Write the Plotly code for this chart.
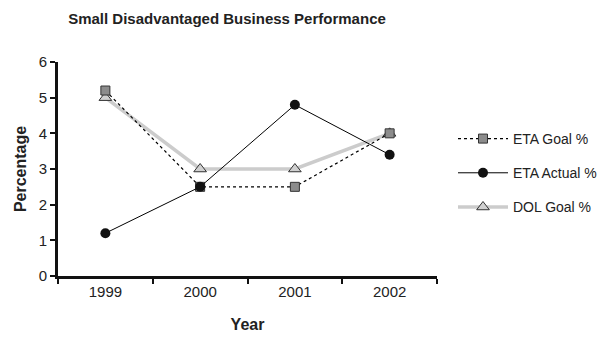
import plotly.graph_objects as go

years = ["1999", "2000", "2001", "2002"]
eta_goal = [5.2, 2.5, 2.5, 4.0]
eta_actual = [1.2, 2.5, 4.8, 3.4]
dol_goal = [5.0, 3.0, 3.0, 4.0]
y_ticks = [0, 1, 2, 3, 4, 5, 6]

FONT = "Liberation Sans, Arial, sans-serif"

fig = go.Figure()
fig.add_trace(go.Scatter(
    x=years, y=dol_goal, name="DOL Goal %", mode="lines+markers",
    line=dict(color="#cccccc", width=3.5),
    marker=dict(symbol="triangle-up", size=11, color="#d0d0d0",
                line=dict(color="#333333", width=1)),
    legendrank=3, legendgroup="c"))
fig.add_trace(go.Scatter(
    x=years, y=eta_goal, name="ETA Goal %", mode="lines+markers",
    line=dict(color="#000000", width=1.2, dash="dot"),
    marker=dict(symbol="square", size=9, color="#8c8c8c",
                line=dict(color="#333333", width=1)),
    legendrank=1, legendgroup="a"))
fig.add_trace(go.Scatter(
    x=years, y=eta_actual, name="ETA Actual %", mode="lines+markers",
    line=dict(color="#000000", width=1),
    marker=dict(symbol="circle", size=10, color="#111111"),
    legendrank=2, legendgroup="b"))

fig.update_layout(
    width=600, height=339,
    margin=dict(l=58, r=163, t=62, b=63),
    paper_bgcolor="white", plot_bgcolor="white",
    font=dict(family=FONT, size=15, color="#222222"),
    title=dict(text="<b>Small Disadvantaged Business Performance</b>",
               x=227/600, xanchor="center", y=1 - 19/339, yanchor="middle",
               font=dict(size=15, color="#222222")),
    xaxis=dict(type="category", range=[-0.5, 3.5], tickson="boundaries",
               ticks="outside", ticklen=5, tickwidth=2, tickcolor="#111111",
               showline=True, linewidth=3, linecolor="#111111",
               showgrid=False, zeroline=False, automargin=False,
               title=dict(text="<b>Year</b>", standoff=20, font=dict(size=16)),
               tickfont=dict(size=15)),
    yaxis=dict(range=[0, 6], tickvals=y_ticks, ticks="outside", ticklen=5,
               tickwidth=1.5, tickcolor="#111111",
               showline=True, linewidth=3, linecolor="#111111",
               showgrid=False, zeroline=False, automargin=False,
               title=dict(text="<b>Percentage</b>", standoff=9, font=dict(size=16)),
               tickfont=dict(size=15)),
    legend=dict(xref="container", x=453/600, y=0.715, xanchor="left", yanchor="top",
                tracegroupgap=13, font=dict(size=14, color="#222222"),
                bgcolor="rgba(0,0,0,0)", itemwidth=50),
    showlegend=True,
)

fig.write_html("out.html")
